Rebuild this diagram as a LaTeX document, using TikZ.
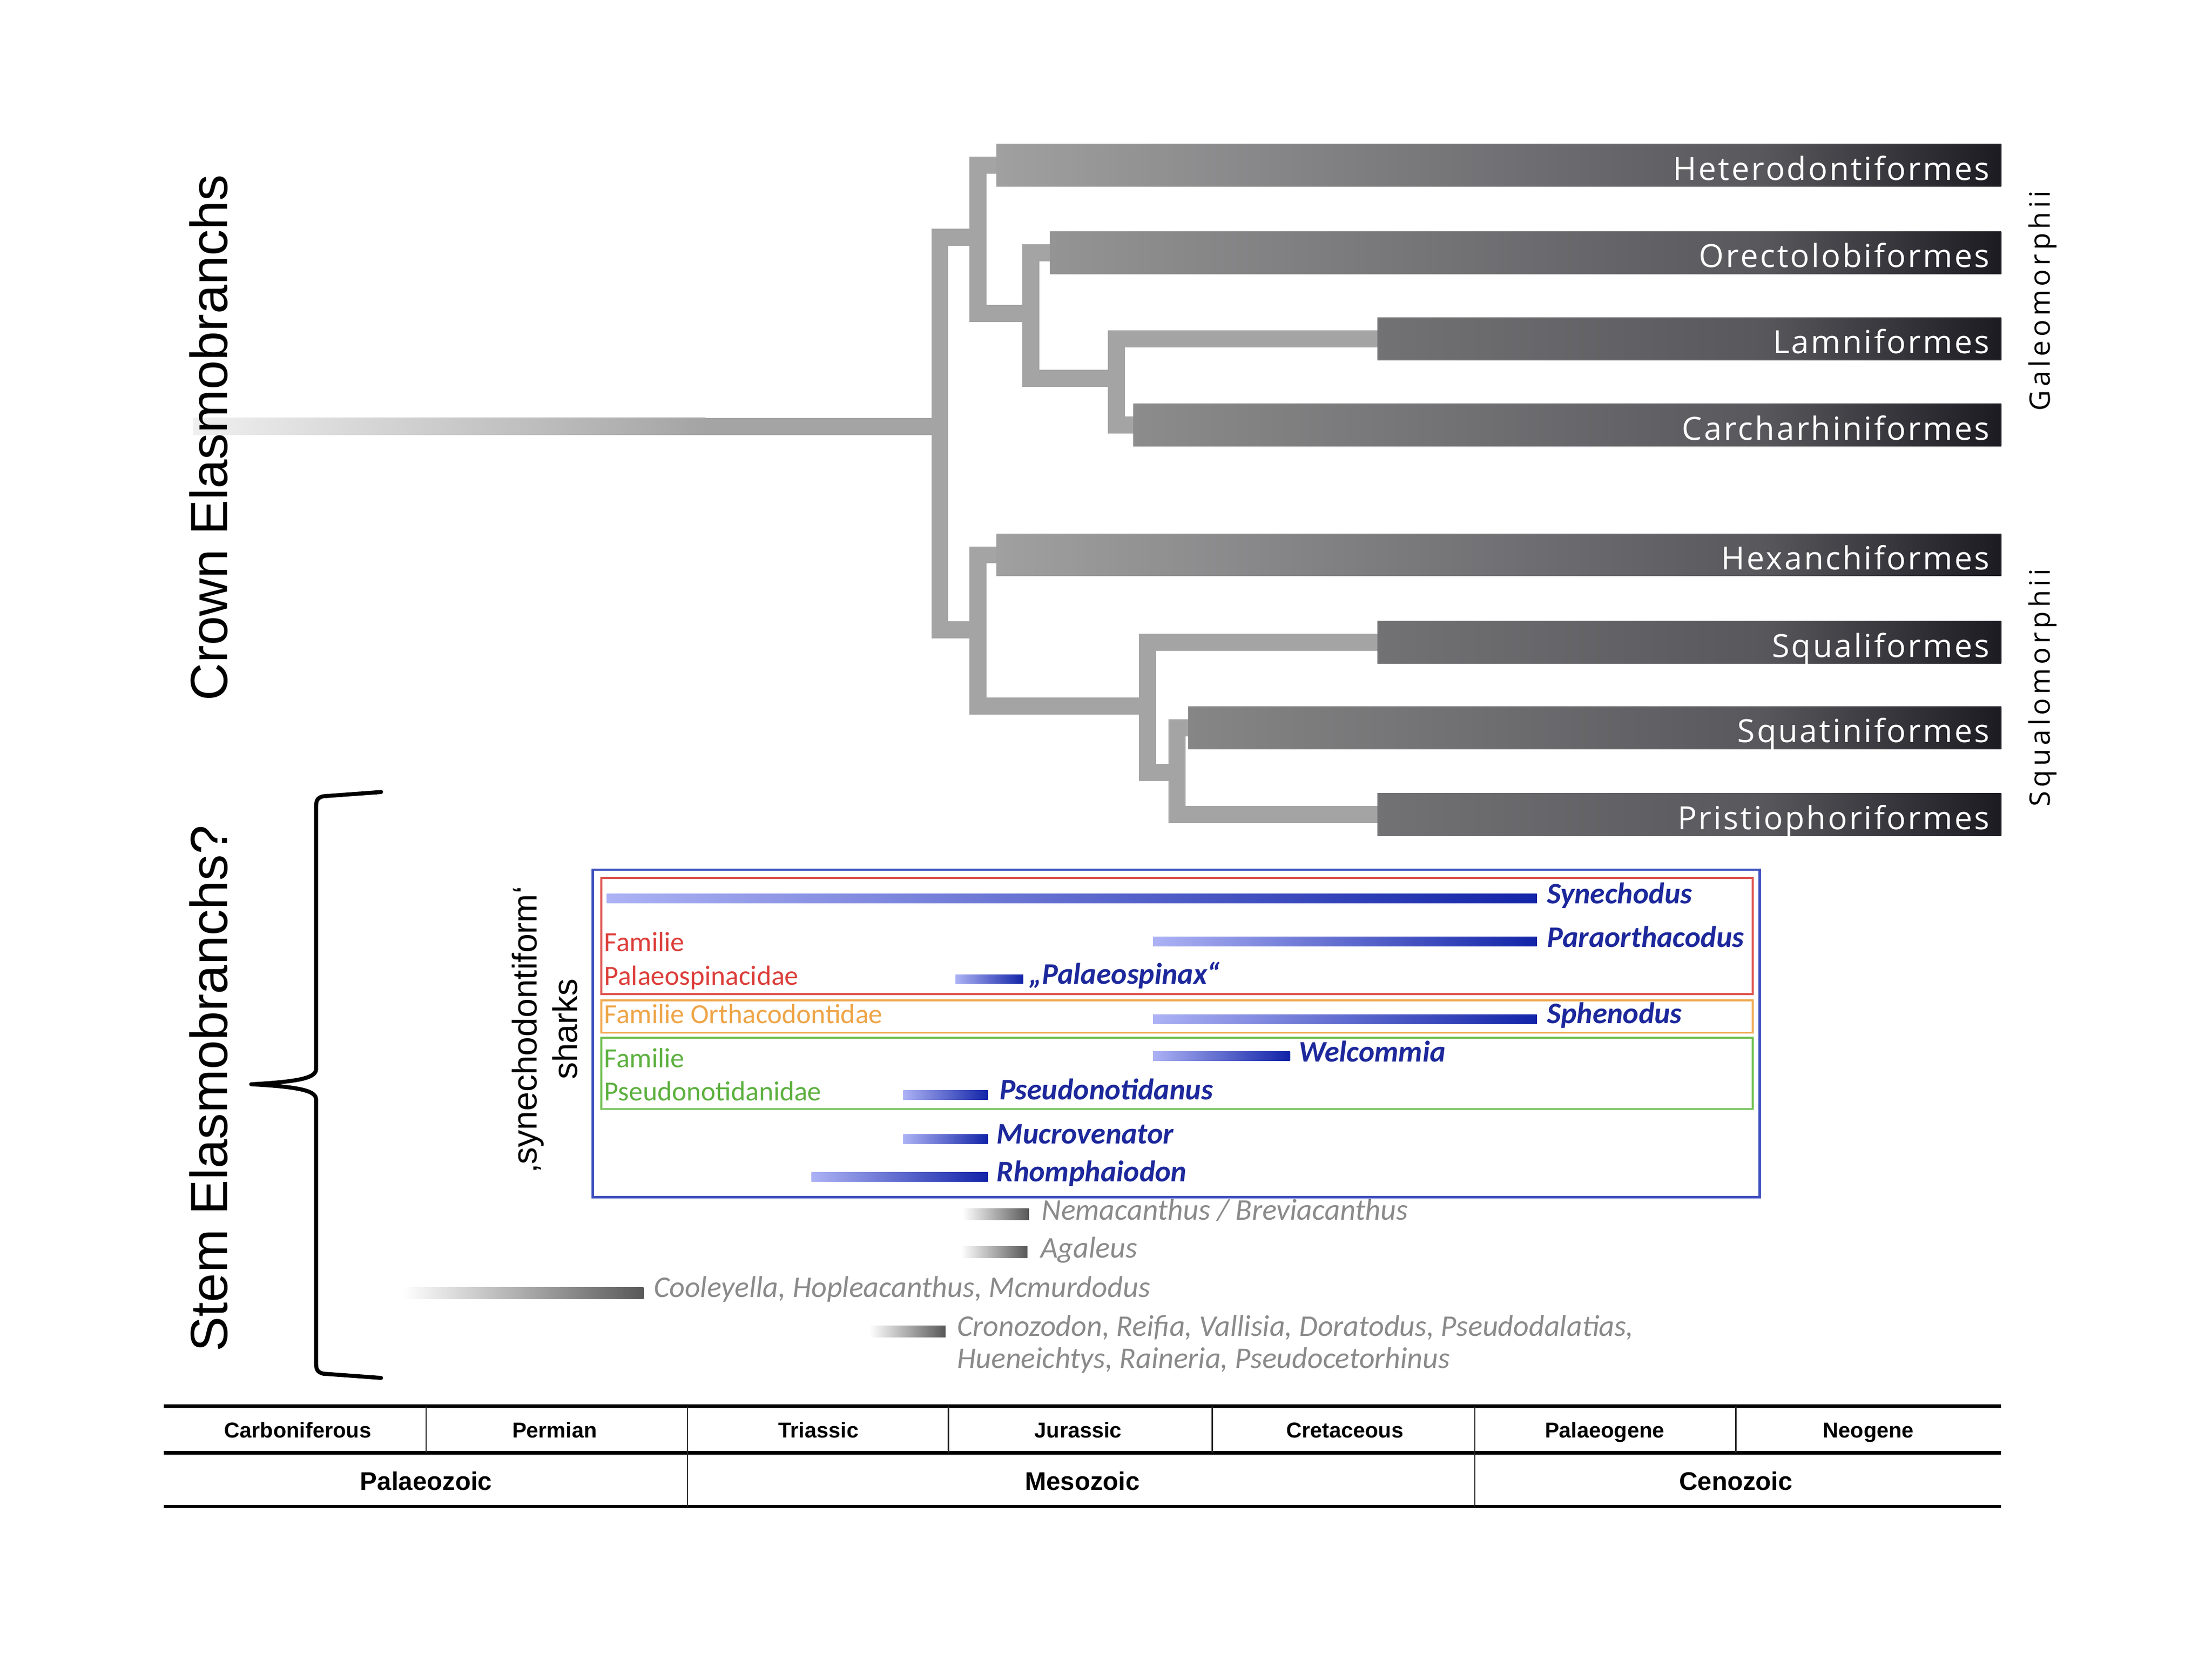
\documentclass[tikz,border=0pt]{standalone}
\usepackage{fontspec}
\setmainfont{Liberation Sans}
\newfontfamily\osansbar[LetterSpace=6]{Open Sans}
\newfontfamily\osansls[LetterSpace=13]{Open Sans}
\newfontfamily\carl{Carlito}

\definecolor{treegray}{RGB}{164,164,164}
\definecolor{barmid}{RGB}{88,87,92}
\definecolor{bardark}{RGB}{28,27,34}
\definecolor{gA}{RGB}{160,160,160}
\definecolor{gB}{RGB}{148,148,148}
\definecolor{gC}{RGB}{140,140,140}
\definecolor{gD}{RGB}{134,134,134}
\definecolor{gE}{RGB}{114,114,116}
\definecolor{taxblue}{RGB}{28,40,155}
\definecolor{barblueL}{RGB}{172,178,244}
\definecolor{barblueR}{RGB}{18,36,168}
\definecolor{boxblue}{RGB}{64,82,190}
\definecolor{boxred}{RGB}{222,84,80}
\definecolor{boxorange}{RGB}{240,170,82}
\definecolor{boxgreen}{RGB}{108,190,76}
\definecolor{txtred}{RGB}{220,62,58}
\definecolor{txtorange}{RGB}{238,165,72}
\definecolor{txtgreen}{RGB}{92,176,62}
\definecolor{taxgray}{RGB}{138,138,138}
\definecolor{graybarR}{RGB}{88,88,88}

\tikzset{
  branch/.style={draw=treegray, line width=9.3pt, line cap=rect, line join=miter},
  barlabel/.style={anchor=base east, inner sep=0pt, text=white, font=\osansbar\fontsize{17.5}{20}\selectfont},
  groupname/.style={rotate=90, inner sep=0pt, font=\osansls\fontsize{15.5}{18}\selectfont},
  bigname/.style={rotate=90, inner sep=0pt, font=\fontsize{28.7}{34}\selectfont},
  taxon/.style={anchor=base west, inner sep=0pt, text=taxblue, font=\carl\bfseries\itshape\fontsize{16.4}{19}\selectfont},
  oldtaxon/.style={anchor=base west, inner sep=0pt, text=taxgray, font=\carl\itshape\fontsize{16.5}{19}\selectfont},
  family/.style={anchor=base west, inner sep=0pt, font=\carl\fontsize{15.2}{18}\selectfont},
  period/.style={anchor=base, inner sep=0pt, font=\bfseries\fontsize{11.8}{14}\selectfont},
  era/.style={anchor=base, inner sep=0pt, font=\bfseries\fontsize{14}{17}\selectfont},
  tsline/.style={draw=black, line width=1.8pt},
  tsdiv/.style={draw=black!85, line width=0.7pt},
  bracestyle/.style={draw=black, line width=2.2pt, line cap=round, line join=round},
}

\newcommand{\cladebar}[5]{%
  \shade[left color=#4, right color=barmid] (#2,#3-15) rectangle (1251,#3+15);
  \shade[left color=barmid, right color=bardark] (1250,#3-15) rectangle (1418,#3+15);
  \node[barlabel] (#1-lab) at (1410,#3+10.5) {#5};
}
\newcommand{\bluebar}[4]{%
  \shade[left color=barblueL, right color=barblueR] (#2,#4-3.3) rectangle (#3,#4+3.3);
  \coordinate (#1) at (#3,#4);
}
\newcommand{\graybar}[4]{%
  \shade[left color=white, right color=graybarR] (#2,#4-4) rectangle (#3,#4+4);
  \coordinate (#1) at (#3,#4);
}

\begin{document}
\begin{tikzpicture}[x=0.27224mm, y=-0.27224mm]
\useasboundingbox (0,0) rectangle (1567.4,1175.5);

% ---- bar anchor coordinates
\coordinate (het) at (706,117);
\coordinate (ore) at (744,179);
\coordinate (lam) at (976,240);
\coordinate (car) at (803,301);
\coordinate (hex) at (706,393);
\coordinate (sql) at (976,455);
\coordinate (sqt) at (842,515.5);
\coordinate (pri) at (976,577);
\coordinate (root) at (666,302);
\coordinate (rootL) at (137,302);

% ---- root stem
\shade[left color=black!6, right color=treegray] (137,296) rectangle (500,308);
\fill[treegray] (499,296) rectangle (666,308);

% ---- branches
\draw[branch] (693,168) -- (666,168) -- (666,446) -- (693,446);
\draw[branch] (het) -- (693,117) -- (693,222) -- (730.5,222);
\draw[branch] (ore) -- (730.5,179) -- (730.5,268) -- (791,268);
\draw[branch] (lam) -- (791,240) -- (791,301) -- (car);
\draw[branch] (hex) -- (693,393) -- (693,500) -- (813,500);
\draw[branch] (sql) -- (813,455) -- (813,547) -- (834,547);
\draw[branch] (sqt) -- (834,515.5) -- (834,577) -- (pri);

% ---- clade bars
\cladebar{het}{706}{117}{gA}{Heterodontiformes}
\cladebar{ore}{744}{179}{gB}{Orectolobiformes}
\cladebar{lam}{976}{240}{gE}{Lamniformes}
\cladebar{car}{803}{301}{gC}{Carcharhiniformes}
\cladebar{hex}{706}{393}{gA}{Hexanchiformes}
\cladebar{sql}{976}{455}{gE}{Squaliformes}
\cladebar{sqt}{842}{515.5}{gD}{Squatiniformes}
\cladebar{pri}{976}{577}{gE}{Pristiophoriformes}

\node[groupname] (galeo) at (1447.5,213) {Galeomorphii};
\node[groupname] (squalo) at (1447.5,487) {Squalomorphii};

% ---- big side labels
\node[bigname] (crown) at (148,310) {Crown Elasmobranchs};
\node[bigname] (stem) at (148,771) {Stem Elasmobranchs?};

% ---- brace
\draw[bracestyle] (270,561) -- (229,564) .. controls (225,565) and (224,567) .. (224,571)
  -- (224,757) .. controls (224,763) and (215,766) .. (178,768)
  .. controls (215,770) and (224,773) .. (224,779)
  -- (224,966) .. controls (224,970) and (225,972) .. (229,973) -- (270,976);

% ---- synechodontiform label
\node[rotate=90, align=center, inner sep=0pt, font=\fontsize{18.8}{22}\selectfont] (syno) at (386,729) {‚synechodontiform‘\\sharks};

% ---- boxes
\draw[boxblue, line width=1.4pt] (420,616) rectangle (1247,848);
\draw[boxred, line width=1.1pt] (426,622) rectangle (1242,704);
\draw[boxorange, line width=1.1pt] (426,708.5) rectangle (1242,731.5);
\draw[boxgreen, line width=1.1pt] (426,735) rectangle (1242,785.5);

\node[family, text=txtred] (fam1a) at (428,674) {Familie};
\node[family, text=txtred] (fam1b) at (428,697.6) {Palaeospinacidae};
\node[family, text=txtorange] (fam2) at (428,725) {Familie Orthacodontidae};
\node[family, text=txtgreen] (fam3a) at (428,756) {Familie};
\node[family, text=txtgreen] (fam3b) at (428,779.5) {Pseudonotidanidae};

% ---- blue taxa
\bluebar{b1}{430}{1089}{636.5}
\bluebar{b2}{817}{1089}{667}
\bluebar{b3}{677}{725}{693.5}
\bluebar{b4}{817}{1089}{722}
\bluebar{b5}{817}{914}{748}
\bluebar{b6}{640}{700}{775.5}
\bluebar{b7}{640}{700}{807}
\bluebar{b8}{575}{700}{833.5}

\node[taxon] (t1) at (1096,640) {Synechodus};
\node[taxon] (t2) at (1096,671) {Paraorthacodus};
\node[taxon] (t3) at (729,697) {„Palaeospinax“};
\node[taxon] (t4) at (1096,725) {Sphenodus};
\node[taxon] (t5) at (920,752) {Welcommia};
\node[taxon] (t6) at (708,779) {Pseudonotidanus};
\node[taxon] (t7) at (706,810) {Mucrovenator};
\node[taxon] (t8) at (706,837) {Rhomphaiodon};

% ---- gray taxa
\graybar{g1}{682}{729}{860}
\graybar{g2}{681}{728}{887}
\graybar{g3}{285}{456}{916}
\graybar{g4}{616}{670}{943}
\node[oldtaxon] (o1) at (738,864) {Nemacanthus / Breviacanthus};
\node[oldtaxon] (o2) at (737,891) {Agaleus};
\node[oldtaxon] (o3) at (463,919) {Cooleyella, Hopleacanthus, Mcmurdodus};
\node[oldtaxon] (o4a) at (678,946.5) {Cronozodon, Reifia, Vallisia, Doratodus, Pseudodalatias,};
\node[oldtaxon] (o4b) at (678,969) {Hueneichtys, Raineria, Pseudocetorhinus};

% ---- time scale
\draw[tsline] (116,996) -- (1418,996);
\draw[tsline] (116,1029) -- (1418,1029);
\draw[tsline] (116,1067) -- (1418,1067);
\foreach \xx in {302,487,672,859,1045,1230} \draw[tsdiv] (\xx,996) -- (\xx,1029);
\foreach \xx in {487,1045} \draw[tsdiv] (\xx,1029) -- (\xx,1067);

\node[period] (p1) at (211,1018.5) {Carboniferous};
\node[period] (p2) at (393,1018.5) {Permian};
\node[period] (p3) at (580,1018.5) {Triassic};
\node[period] (p4) at (764,1018.5) {Jurassic};
\node[period] (p5) at (953,1018.5) {Cretaceous};
\node[period] (p6) at (1137,1018.5) {Palaeogene};
\node[period] (p7) at (1324,1018.5) {Neogene};
\node[era] (e1) at (302,1055.5) {Palaeozoic};
\node[era] (e2) at (767,1055.5) {Mesozoic};
\node[era] (e3) at (1230,1055.5) {Cenozoic};
\end{tikzpicture}
\end{document}
